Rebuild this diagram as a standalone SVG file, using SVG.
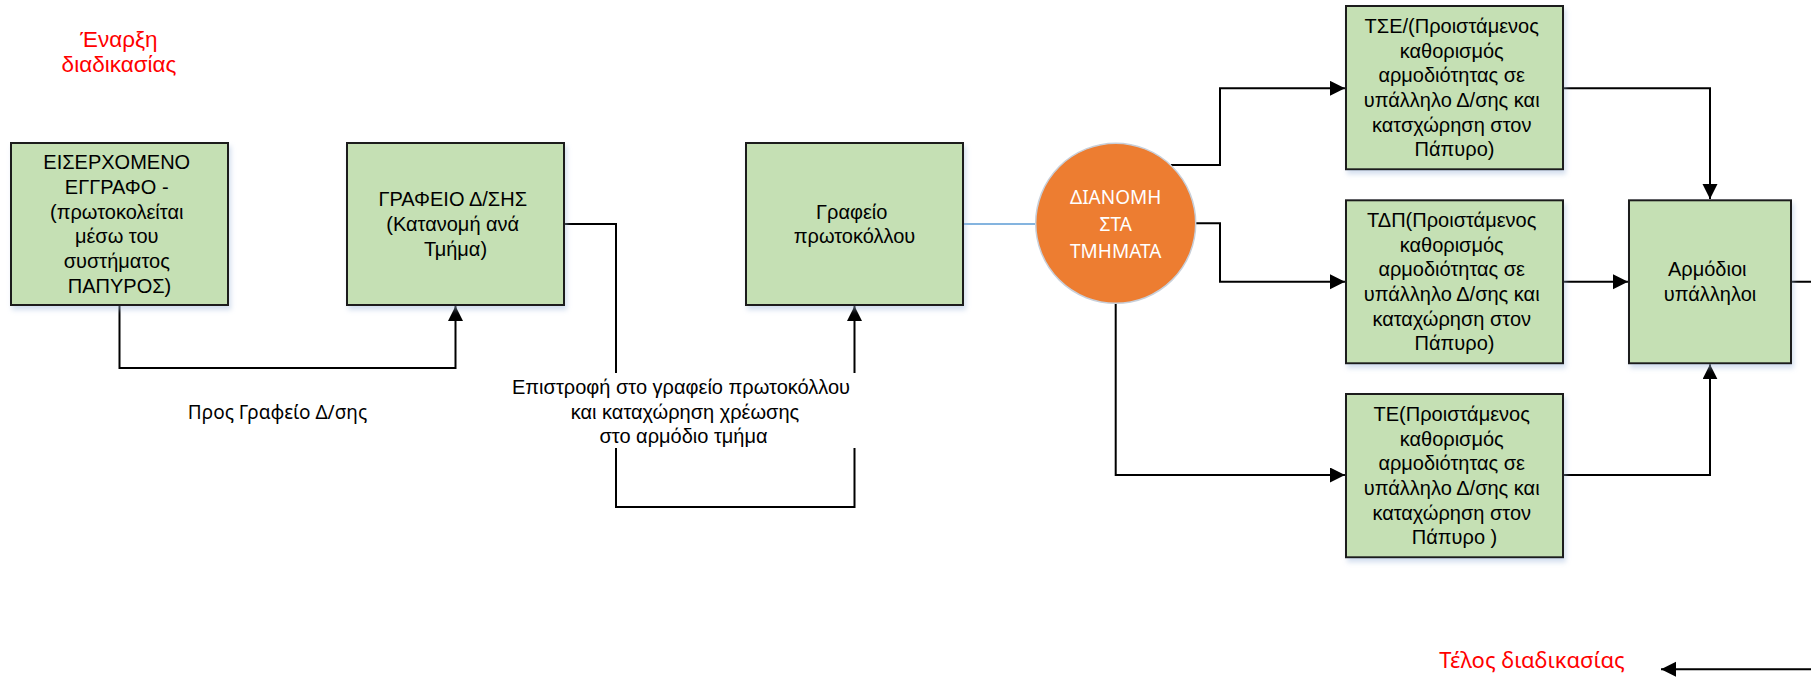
<svg xmlns="http://www.w3.org/2000/svg" width="1811" height="678" viewBox="0 0 1811 678">
  <defs>
    <marker id="arrow" markerUnits="userSpaceOnUse" markerWidth="16" markerHeight="16" refX="15" refY="7.5" orient="auto">
      <path d="M0,0 L15,7.5 L0,15 z" fill="#000"/>
    </marker>
    <filter id="shadow" x="-10%" y="-10%" width="125%" height="130%">
      <feDropShadow dx="2" dy="4" stdDeviation="2.5" flood-color="#9fb7dc" flood-opacity="0.45"/>
    </filter>
  </defs>
  <style>
    .box { fill: #C5E0B4; stroke: #1e1e1e; stroke-width: 2; filter: url(#shadow); }
    .txt { font-family: "Liberation Sans", Arial, sans-serif; font-size: 20px; fill: #000; text-anchor: middle; }
    .lbl { font-family: "Noto Sans", "Open Sans", sans-serif; font-size: 19px; fill: #000; text-anchor: middle; }
    .red { font-family: "Noto Sans", "Open Sans", sans-serif; font-size: 22px; fill: #FF0000; text-anchor: middle; }
    .red-start { font-family: "Liberation Sans", Arial, sans-serif; font-size: 22.5px; fill: #FF0000; text-anchor: middle; }
    .circ-txt { font-family: "Noto Sans", "Open Sans", sans-serif; font-size: 19px; fill: #FFFFFF; text-anchor: middle; }
    .wire { fill: none; stroke: #000; stroke-width: 2; }
    .wire-blue { fill: none; stroke: #5B9BD5; stroke-width: 1.6; }
  </style>

  <rect width="1811" height="678" fill="#FFFFFF"/>

  <!-- start / end captions -->
  <g id="start-label">
    <text class="red-start" x="119" y="46.5">Έναρξη</text>
    <text class="red-start" x="119" y="71.7">διαδικασίας</text>
  </g>
  <g id="end-label">
    <text class="red" x="1532" y="668">Τέλος διαδικασίας</text>
  </g>

  <!-- connectors -->
  <g id="connectors">
    <path class="wire" d="M119.5,305 V368 H455.5 V306" marker-end="url(#arrow)"/>
    <path class="wire" d="M564,224 H616 V373 M616,448 V507 H854.5 V448 M854.5,373 V306" marker-end="url(#arrow)"/>
    <path class="wire-blue" d="M963,224 H1036"/>
    <path class="wire" d="M1171,165 H1220 V88.3 H1345" marker-end="url(#arrow)"/>
    <path class="wire" d="M1195.7,223.3 H1220 V281.7 H1345" marker-end="url(#arrow)"/>
    <path class="wire" d="M1115.7,303.3 V475 H1345" marker-end="url(#arrow)"/>
    <path class="wire" d="M1563,88.3 H1710 V199" marker-end="url(#arrow)"/>
    <path class="wire" d="M1563,281.7 H1628" marker-end="url(#arrow)"/>
    <path class="wire" d="M1563,475 H1710 V364.3" marker-end="url(#arrow)"/>
    <path class="wire" d="M1791,281.7 H1830 V669.3 H1661" marker-end="url(#arrow)"/>
    <g id="label-to-office">
      <text class="lbl" x="277.5" y="419">Προς Γραφείο Δ/σης</text>
    </g>
    <g id="label-return">
      <text class="txt" x="681" y="394">Επιστροφή στο γραφείο πρωτοκόλλου</text>
      <text class="txt" x="685" y="418.7">και καταχώρηση χρέωσης</text>
      <text class="txt" x="683.5" y="443.4">στο αρμόδιο τμήμα</text>
    </g>
  </g>

  <!-- nodes -->
  <g id="incoming-document">
    <rect class="box" x="11" y="143" width="217" height="162"/>
    <text class="txt" y="169.3">
      <tspan x="119.5">ΕΙΣΕΡΧΟΜΕΝΟ</tspan>
      <tspan x="119.5" dy="24.7">ΕΓΓΡΑΦΟ -</tspan>
      <tspan x="119.5" dy="24.7">(πρωτοκολείται</tspan>
      <tspan x="119.5" dy="24.7">μέσω του</tspan>
      <tspan x="119.5" dy="24.7">συστήματος</tspan>
      <tspan x="119.5" dy="24.7">ΠΑΠΥΡΟΣ)</tspan>
    </text>
  </g>

  <g id="director-office">
    <rect class="box" x="347" y="143" width="217" height="162"/>
    <text class="txt" y="206.3">
      <tspan x="455.5">ΓΡΑΦΕΙΟ Δ/ΣΗΣ</tspan>
      <tspan x="455.5" dy="24.7">(Κατανομή ανά</tspan>
      <tspan x="455.5" dy="24.7">Τμήμα)</tspan>
    </text>
  </g>

  <g id="protocol-office">
    <rect class="box" x="746" y="143" width="217" height="162"/>
    <text class="txt" y="218.7">
      <tspan x="854.5">Γραφείο</tspan>
      <tspan x="854.5" dy="24.7">πρωτοκόλλου</tspan>
    </text>
  </g>

  <g id="distribution">
    <circle cx="1115.7" cy="223.3" r="80" fill="#ED7D31" stroke="#c8cfd9" stroke-width="1.5"/>
    <text class="circ-txt" x="1115.7" y="204">ΔΙΑΝΟΜΗ</text>
    <text class="circ-txt" x="1115.7" y="231">ΣΤΑ</text>
    <text class="circ-txt" x="1115.7" y="258">ΤΜΗΜΑΤΑ</text>
  </g>

  <g id="dept-tse">
    <rect class="box" x="1346" y="6" width="217" height="163.3"/>
    <text class="txt" y="32.9">
      <tspan x="1454.5">ΤΣΕ/(Προιστάμενος</tspan>
      <tspan x="1454.5" dy="24.7">καθορισμός</tspan>
      <tspan x="1454.5" dy="24.7">αρμοδιότητας σε</tspan>
      <tspan x="1454.5" dy="24.7">υπάλληλο Δ/σης και</tspan>
      <tspan x="1454.5" dy="24.7">κατσχώρηση στον</tspan>
      <tspan x="1454.5" dy="24.7">Πάπυρο)</tspan>
    </text>
  </g>

  <g id="dept-tdp">
    <rect class="box" x="1346" y="200.3" width="217" height="163"/>
    <text class="txt" y="226.9">
      <tspan x="1454.5">ΤΔΠ(Προιστάμενος</tspan>
      <tspan x="1454.5" dy="24.7">καθορισμός</tspan>
      <tspan x="1454.5" dy="24.7">αρμοδιότητας σε</tspan>
      <tspan x="1454.5" dy="24.7">υπάλληλο Δ/σης και</tspan>
      <tspan x="1454.5" dy="24.7">καταχώρηση στον</tspan>
      <tspan x="1454.5" dy="24.7">Πάπυρο)</tspan>
    </text>
  </g>

  <g id="dept-te">
    <rect class="box" x="1346" y="394" width="217" height="163.3"/>
    <text class="txt" y="420.9">
      <tspan x="1454.5">ΤΕ(Προιστάμενος</tspan>
      <tspan x="1454.5" dy="24.7">καθορισμός</tspan>
      <tspan x="1454.5" dy="24.7">αρμοδιότητας σε</tspan>
      <tspan x="1454.5" dy="24.7">υπάλληλο Δ/σης και</tspan>
      <tspan x="1454.5" dy="24.7">καταχώρηση στον</tspan>
      <tspan x="1454.5" dy="24.7">Πάπυρο )</tspan>
    </text>
  </g>

  <g id="officers">
    <rect class="box" x="1629" y="200.3" width="162" height="163"/>
    <text class="txt" y="276.4">
      <tspan x="1710">Αρμόδιοι</tspan>
      <tspan x="1710" dy="24.7">υπάλληλοι</tspan>
    </text>
  </g>
</svg>
